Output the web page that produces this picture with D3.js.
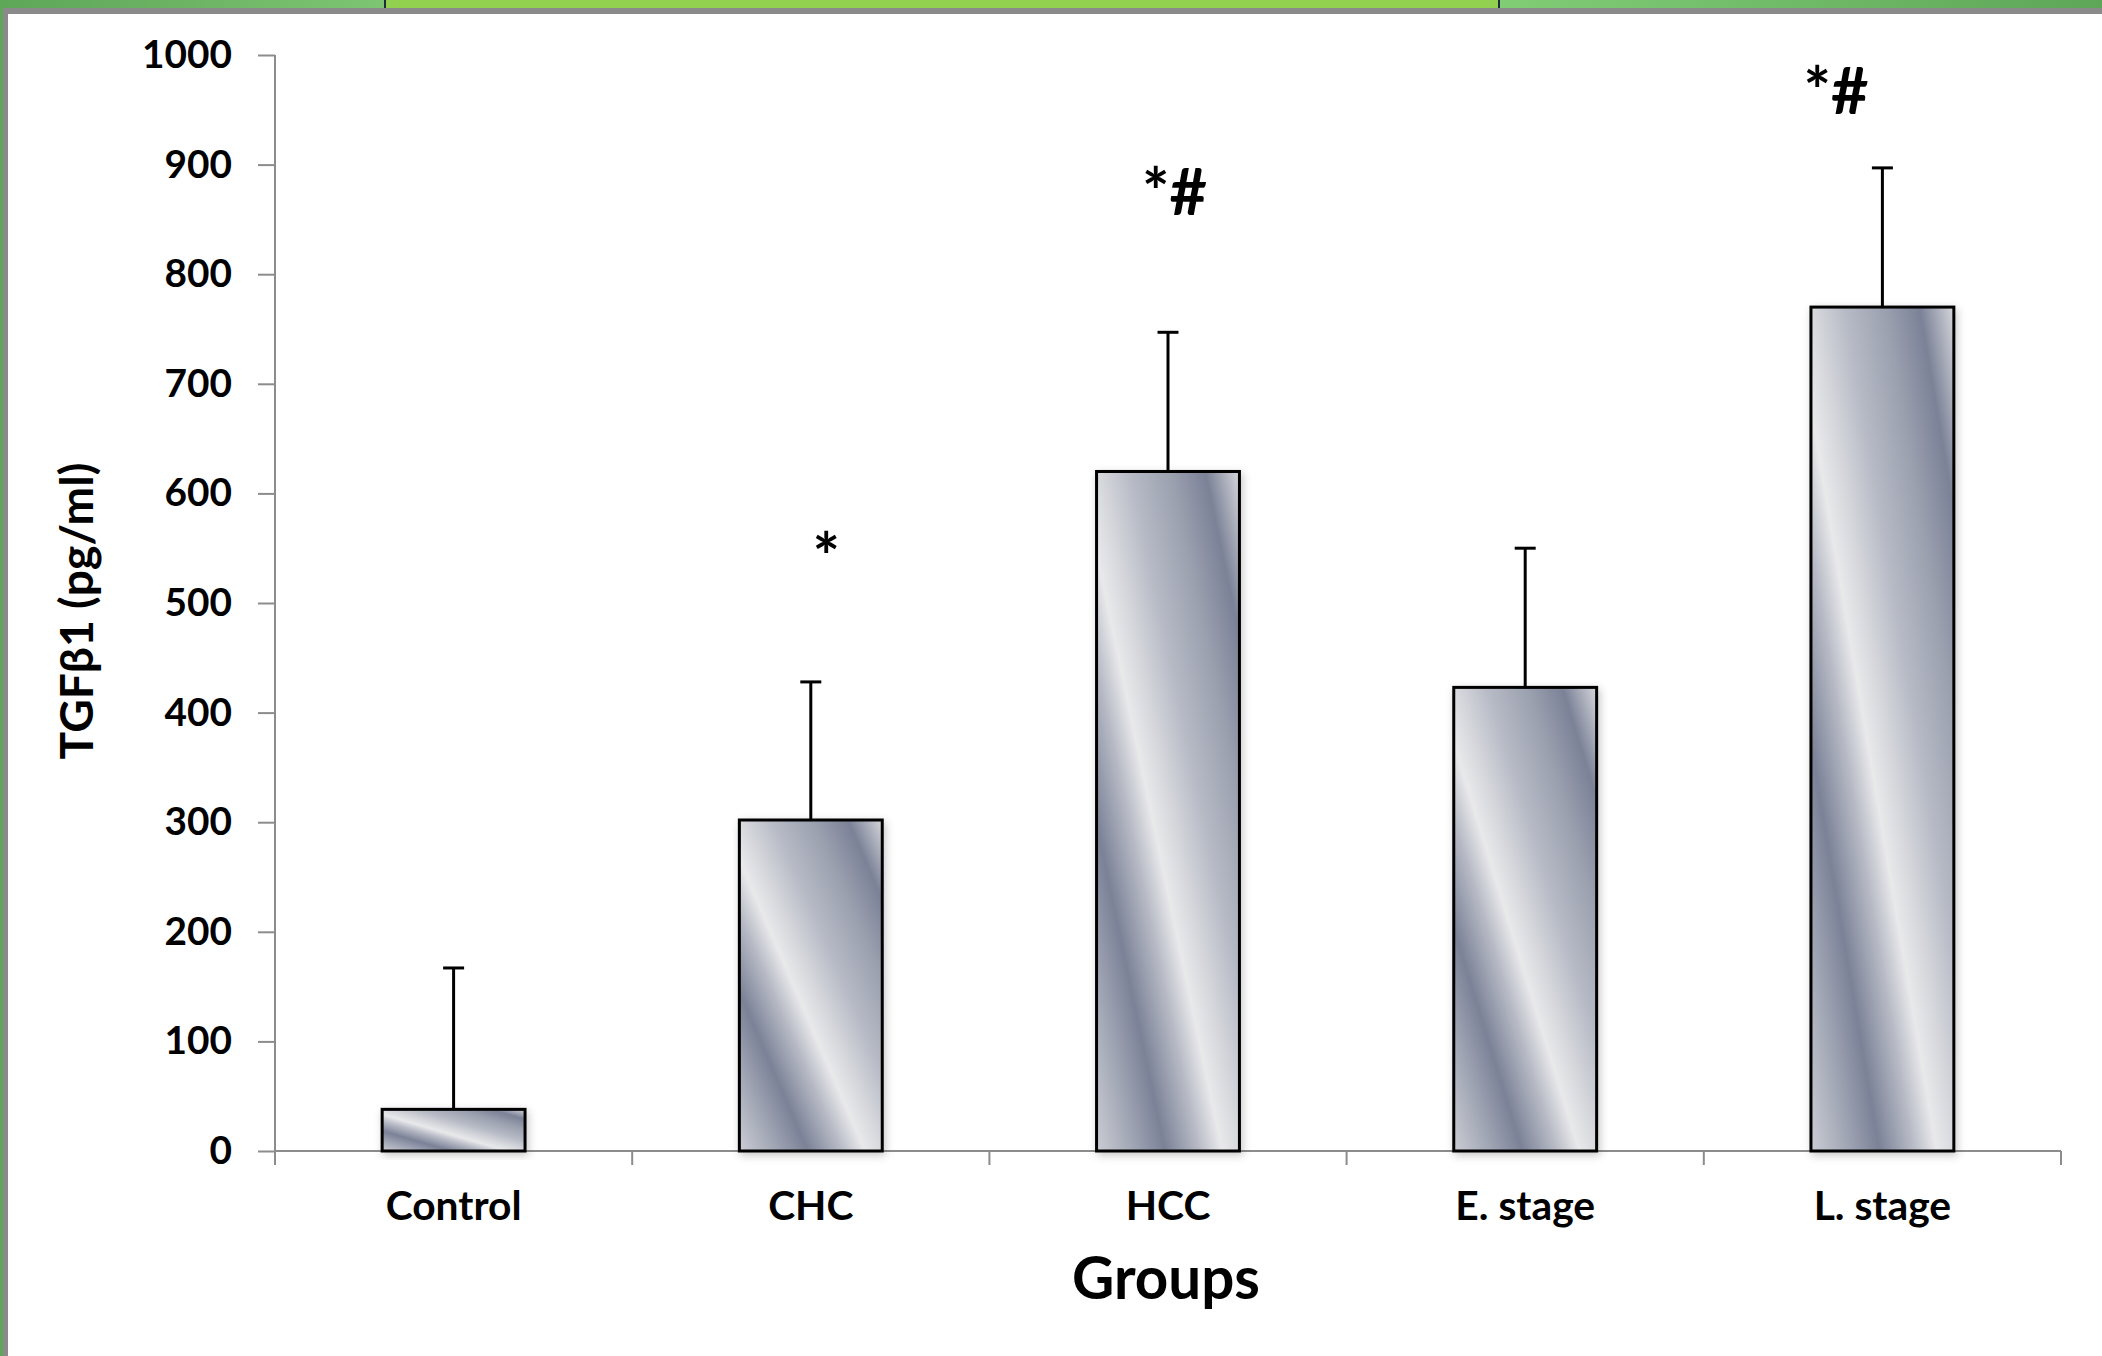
<!DOCTYPE html>
<html><head><meta charset="utf-8">
<script src="https://cdn.jsdelivr.net/npm/d3@7"></script>
<style>body{margin:0;background:#fff;overflow:hidden} svg{display:block}</style>
</head><body>
<svg id="c" width="2102" height="1356"></svg>
<script>
// ---- data ----
const categories = ["Control", "CHC", "HCC", "E. stage", "L. stage"];
const means = [38, 302, 620, 423, 770];
const sdErrors = [129, 126, 127, 127, 127];
const yTicks = [0, 100, 200, 300, 400, 500, 600, 700, 800, 900, 1000];
const sigLabels = ["", "*", "*#", "", "*#"];
const sigLevels = [0, 521, 854, 0, 946];
const sigShift = [0, 0.043, 0.018, 0, -0.13];
const yTitle = "TGFβ1 (pg/ml)";
const xTitle = "Groups";

const W = 2102, H = 1356;
const FONT = "Lato, 'Open Sans', 'DejaVu Sans', sans-serif";
const svg = d3.select("#c");

// ---- defs ----
const defs = svg.append("defs");
const g1 = defs.append("linearGradient").attr("id", "chrome")
  .attr("x1", 0).attr("y1", 1).attr("x2", 1).attr("y2", 0);
[[0, "#cbcdd3"], [0.12, "#a4a9b7"], [0.24, "#7b8297"], [0.36, "#b8bbc6"], [0.44, "#e9e9eb"],
 [0.52, "#d3d5da"], [0.62, "#b6bac5"], [0.76, "#9ba0af"], [0.88, "#7b8297"], [1, "#d6d7dc"]]
  .forEach(([o, c]) => g1.append("stop").attr("offset", o).attr("stop-color", c));
const gl = defs.append("linearGradient").attr("id", "greenL").attr("x1", 0).attr("x2", 1).attr("y1", 0).attr("y2", 0);
gl.append("stop").attr("offset", 0).attr("stop-color", "#5ea658");
gl.append("stop").attr("offset", 1).attr("stop-color", "#7dc572");
const gr = defs.append("linearGradient").attr("id", "greenR").attr("x1", 0).attr("x2", 1).attr("y1", 0).attr("y2", 0);
gr.append("stop").attr("offset", 0).attr("stop-color", "#80cd76");
gr.append("stop").attr("offset", 1).attr("stop-color", "#5ea658");
const sh = defs.append("filter").attr("id", "shadow").attr("x", "-20%").attr("y", "-20%").attr("width", "140%").attr("height", "140%");
sh.append("feDropShadow").attr("dx", 2).attr("dy", 3).attr("stdDeviation", 4)
  .attr("flood-color", "#000").attr("flood-opacity", 0.22);

// ---- frame decoration ----
svg.append("rect").attr("x", 0).attr("y", 0).attr("width", W).attr("height", H).attr("fill", "#fff");
svg.append("rect").attr("x", 0).attr("y", 0).attr("width", 386).attr("height", 8).attr("fill", "url(#greenL)");
svg.append("rect").attr("x", 386).attr("y", 0).attr("width", 1113).attr("height", 8).attr("fill", "#92d050");
svg.append("rect").attr("x", 1499).attr("y", 0).attr("width", W - 1499).attr("height", 8).attr("fill", "url(#greenR)");
svg.append("rect").attr("x", 384).attr("y", 0).attr("width", 2).attr("height", 8).attr("fill", "#1d2b3a");
svg.append("rect").attr("x", 1498).attr("y", 0).attr("width", 2).attr("height", 8).attr("fill", "#1d2b3a");
svg.append("rect").attr("x", 0).attr("y", 8).attr("width", W).attr("height", 6).attr("fill", "#8a8a8a");
svg.append("rect").attr("x", 0).attr("y", 0).attr("width", 3).attr("height", H).attr("fill", "#5ea658");
svg.append("rect").attr("x", 3).attr("y", 8).attr("width", 5).attr("height", H).attr("fill", "#8a8a8a");

// ---- scales ----
const x = d3.scaleBand().domain(categories).range([275, 2061]).paddingInner(0.6).paddingOuter(0.3);
const y = d3.scaleLinear().domain([0, 1000]).range([1151, 55]);
const axisColor = "#8c8c8c";

function fitFont(sel, target) {
  const fs = parseFloat(sel.attr("font-size"));
  const w = sel.node().getComputedTextLength();
  return fs * target / w;
}

// probe font sizes
const probe = svg.append("text").attr("font-family", FONT).attr("font-weight", "bold").attr("font-size", 40);
probe.text("1000"); const fsY = fitFont(probe, 90);
probe.text("Control"); const fsX = fitFont(probe, 136);
probe.text(yTitle); const fsYT = fitFont(probe, 297);
probe.text(xTitle); const fsXT = fitFont(probe, 188);
probe.text("*#"); const fsSig = fitFont(probe, 65);
probe.remove();

// ---- y axis ----
const yAxis = svg.append("g").attr("transform", "translate(275,0)")
  .call(d3.axisLeft(y).tickValues(yTicks).tickFormat(d3.format("d")).tickSize(17).tickPadding(26).tickSizeOuter(0));
yAxis.select(".domain").remove();
yAxis.selectAll(".tick line").attr("stroke", axisColor).attr("stroke-width", 2);
yAxis.selectAll(".tick text").attr("font-family", FONT).attr("font-weight", "bold")
  .attr("font-size", fsY).attr("fill", "#000");
svg.append("line").attr("x1", 275).attr("x2", 275).attr("y1", y(1000)).attr("y2", 1165)
  .attr("stroke", axisColor).attr("stroke-width", 2);

// ---- x axis ----
const xAxis = svg.append("g").attr("transform", "translate(0,1151)")
  .call(d3.axisBottom(x).tickSize(0).tickPadding(69));
xAxis.select(".domain").remove();
xAxis.selectAll(".tick text").attr("font-family", FONT).attr("font-weight", "bold")
  .attr("font-size", fsX).attr("fill", "#000").attr("dy", 0);
svg.append("line").attr("x1", 275).attr("x2", 2061).attr("y1", 1151).attr("y2", 1151)
  .attr("stroke", axisColor).attr("stroke-width", 2);
const bounds = categories.map(c => x(c) - x.step() * x.paddingInner() / 2)
  .concat([x(categories[categories.length - 1]) + x.bandwidth() + x.step() * x.paddingInner() / 2]);
svg.append("g").selectAll("line").data(bounds).join("line")
  .attr("x1", d => d).attr("x2", d => d).attr("y1", 1151).attr("y2", 1165)
  .attr("stroke", axisColor).attr("stroke-width", 2);

// ---- bars ----
const data = categories.map((c, i) => ({ c, v: means[i], e: sdErrors[i], s: sigLabels[i], sl: sigLevels[i], sx: sigShift[i] }));
svg.append("g").selectAll("rect").data(data).join("rect")
  .attr("x", d => x(d.c)).attr("width", x.bandwidth())
  .attr("y", d => y(d.v)).attr("height", d => y(0) - y(d.v))
  .attr("fill", "url(#chrome)").attr("stroke", "#000").attr("stroke-width", 3)
  .attr("filter", "url(#shadow)");

// ---- error bars ----
const eb = svg.append("g").attr("stroke", "#000").attr("stroke-width", 3);
eb.selectAll("line.v").data(data).join("line").attr("class", "v")
  .attr("x1", d => x(d.c) + x.bandwidth() / 2).attr("x2", d => x(d.c) + x.bandwidth() / 2)
  .attr("y1", d => y(d.v)).attr("y2", d => y(d.v + d.e));
eb.selectAll("line.cap").data(data).join("line").attr("class", "cap")
  .attr("x1", d => x(d.c) + x.bandwidth() / 2 - 10.5).attr("x2", d => x(d.c) + x.bandwidth() / 2 + 10.5)
  .attr("y1", d => y(d.v + d.e)).attr("y2", d => y(d.v + d.e));

// ---- significance marks ----
svg.append("g").selectAll("text").data(data.filter(d => d.s)).join("text")
  .attr("x", d => x(d.c) + x.bandwidth() / 2 + d.sx * x.step())
  .attr("y", d => y(d.sl))
  .attr("text-anchor", "middle").attr("font-family", FONT).attr("font-weight", "bold")
  .attr("font-size", fsSig).attr("fill", "#000").text(d => d.s);

// ---- titles ----
svg.append("text").attr("transform", "translate(93,611) rotate(-90)")
  .attr("text-anchor", "middle").attr("font-family", FONT).attr("font-weight", "bold")
  .attr("font-size", fsYT).attr("fill", "#000").text(yTitle);
svg.append("text").attr("x", 1166).attr("y", 1299)
  .attr("text-anchor", "middle").attr("font-family", FONT).attr("font-weight", "bold")
  .attr("font-size", fsXT).attr("fill", "#000").text(xTitle);
</script>
</body></html>
